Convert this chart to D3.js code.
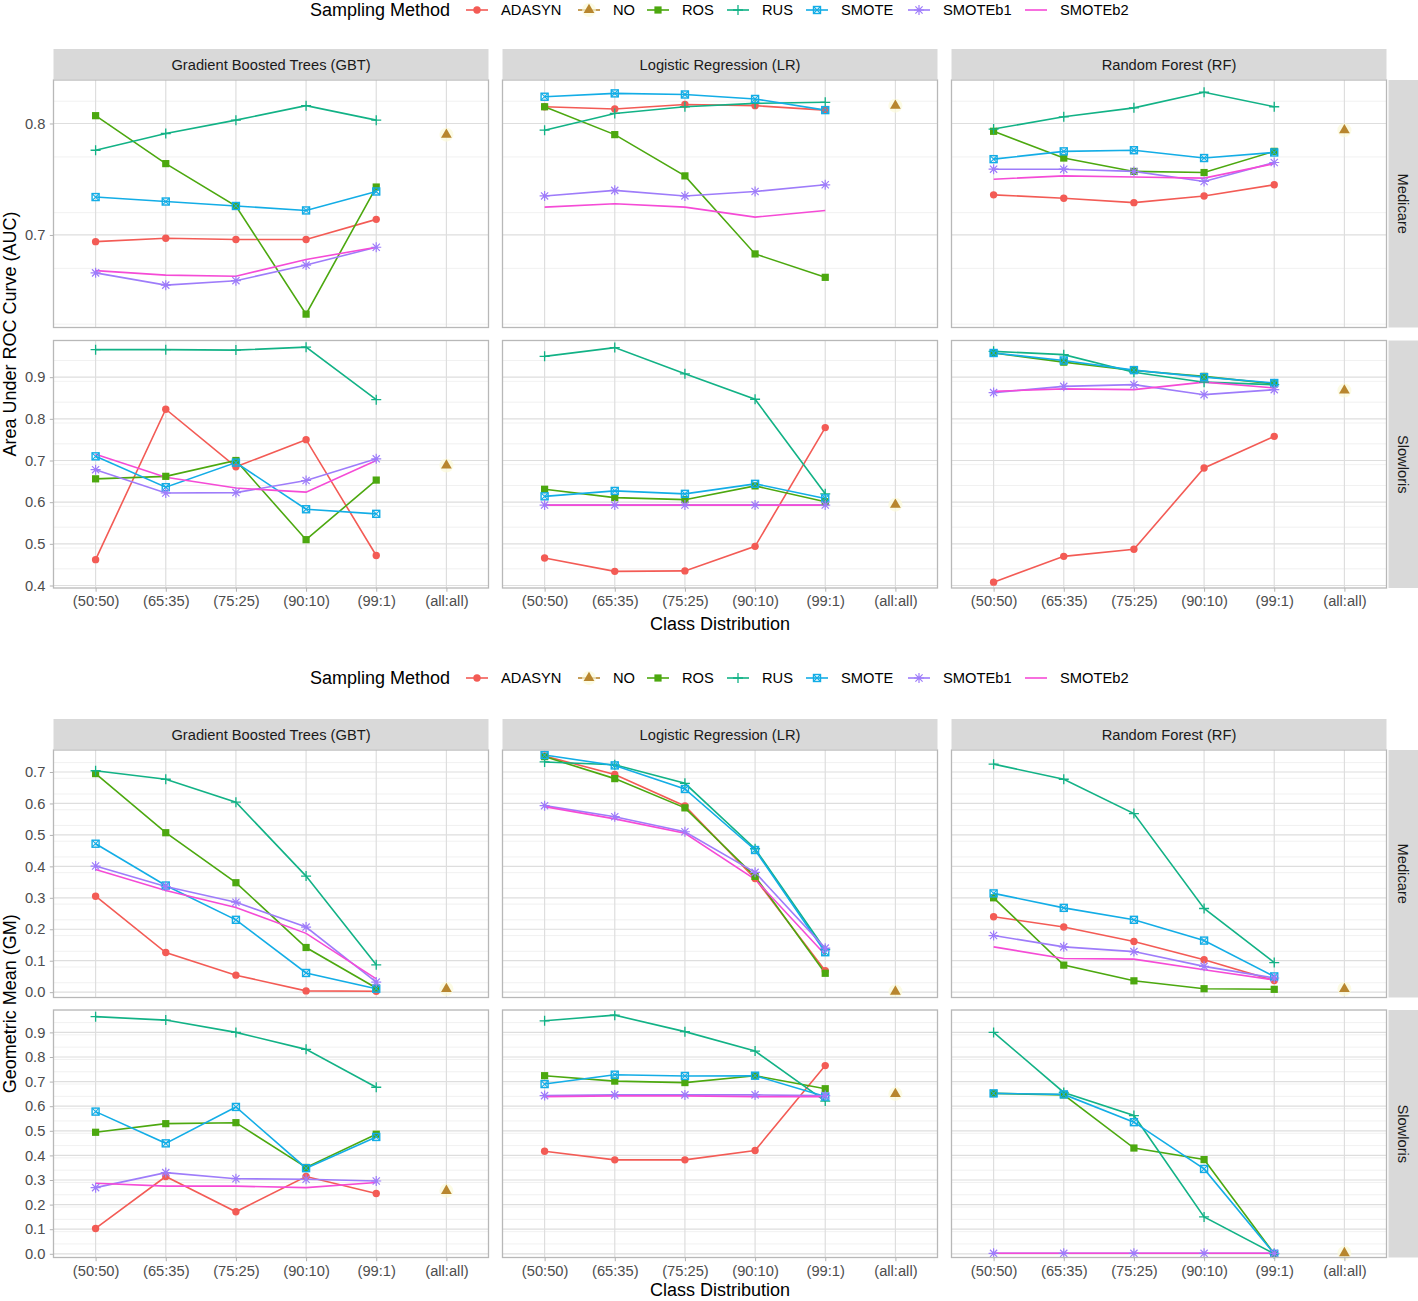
<!DOCTYPE html>
<html><head><meta charset="utf-8">
<script src="https://cdn.jsdelivr.net/npm/d3@7"></script>
<style>body{margin:0;background:#fff;} text{font-family:"Liberation Sans",Arial,Helvetica,sans-serif;}</style>
</head><body>
<script>
const categories = ["(50:50)", "(65:35)", "(75:25)", "(90:10)", "(99:1)", "(all:all)"];
const methods = ["ADASYN", "NO", "ROS", "RUS", "SMOTE", "SMOTEb1", "SMOTEb2"];
const models = ["Gradient Boosted Trees (GBT)", "Logistic Regression (LR)", "Random Forest (RF)"];
const datasets = ["Medicare", "Slowloris"];
const colors = ["#F35B55", "#B8862E", "#4CA80F", "#12B286", "#13ADE6", "#9E7CFA", "#F54BD6"];

// ---- AUC, Medicare ----
const aucMedGBT = {
  ADASYN: [0.694, 0.697, 0.696, 0.696, 0.714],
  ROS: [0.807, 0.764, 0.726, 0.629, 0.743],
  RUS: [0.776, 0.791, 0.803, 0.816, 0.803],
  SMOTE: [0.734, 0.730, 0.726, 0.722, 0.739],
  SMOTEb1: [0.666, 0.655, 0.659, 0.673, 0.689],
  SMOTEb2: [0.668, 0.664, 0.663, 0.678, 0.689]
};
const aucMedLR = {
  ADASYN: [0.815, 0.813, 0.817, 0.816, 0.812],
  ROS: [0.815, 0.790, 0.753, 0.683, 0.662],
  RUS: [0.794, 0.809, 0.815, 0.818, 0.819],
  SMOTE: [0.824, 0.827, 0.826, 0.822, 0.812],
  SMOTEb1: [0.735, 0.740, 0.735, 0.739, 0.745],
  SMOTEb2: [0.725, 0.728, 0.725, 0.716, 0.722]
};
const aucMedRF = {
  ADASYN: [0.736, 0.733, 0.729, 0.735, 0.745],
  ROS: [0.793, 0.769, 0.757, 0.756, 0.775],
  RUS: [0.795, 0.806, 0.814, 0.828, 0.815],
  SMOTE: [0.768, 0.775, 0.776, 0.769, 0.774],
  SMOTEb1: [0.759, 0.759, 0.757, 0.748, 0.765],
  SMOTEb2: [0.750, 0.753, 0.752, 0.751, 0.764]
};
const aucMedNO = [0.790, 0.816, 0.794];

// ---- AUC, Slowloris ----
const aucSlowGBT = {
  ADASYN: [0.462, 0.823, 0.685, 0.750, 0.472],
  ROS: [0.656, 0.662, 0.700, 0.510, 0.653],
  RUS: [0.966, 0.966, 0.965, 0.972, 0.846],
  SMOTE: [0.710, 0.636, 0.695, 0.583, 0.572],
  SMOTEb1: [0.678, 0.622, 0.623, 0.652, 0.704],
  SMOTEb2: [0.715, 0.660, 0.634, 0.624, 0.700]
};
const aucSlowLR = {
  ADASYN: [0.466, 0.434, 0.435, 0.494, 0.779],
  ROS: [0.631, 0.611, 0.606, 0.639, 0.601],
  RUS: [0.950, 0.971, 0.908, 0.847, 0.620],
  SMOTE: [0.614, 0.627, 0.620, 0.644, 0.609],
  SMOTEb1: [0.593, 0.593, 0.593, 0.593, 0.593],
  SMOTEb2: [0.593, 0.593, 0.593, 0.593, 0.593]
};
const aucSlowRF = {
  ADASYN: [0.408, 0.470, 0.487, 0.682, 0.758],
  ROS: [0.958, 0.936, 0.916, 0.902, 0.884],
  RUS: [0.962, 0.954, 0.912, 0.888, 0.882],
  SMOTE: [0.958, 0.940, 0.917, 0.900, 0.886],
  SMOTEb1: [0.863, 0.878, 0.882, 0.858, 0.870],
  SMOTEb2: [0.866, 0.872, 0.870, 0.888, 0.874]
};
const aucSlowNO = [0.688, 0.594, 0.868];

// ---- GM, Medicare ----
const gmMedGBT = {
  ADASYN: [0.305, 0.126, 0.054, 0.004, 0.003],
  ROS: [0.695, 0.507, 0.348, 0.142, 0.013],
  RUS: [0.704, 0.677, 0.604, 0.369, 0.087],
  SMOTE: [0.472, 0.339, 0.230, 0.061, 0.011],
  SMOTEb1: [0.401, 0.336, 0.286, 0.207, 0.032],
  SMOTEb2: [0.390, 0.323, 0.269, 0.187, 0.042]
};
const gmMedLR = {
  ADASYN: [0.751, 0.692, 0.592, 0.361, 0.068],
  ROS: [0.749, 0.679, 0.586, 0.368, 0.060],
  RUS: [0.732, 0.723, 0.664, 0.456, 0.135],
  SMOTE: [0.754, 0.721, 0.646, 0.452, 0.127],
  SMOTEb1: [0.593, 0.558, 0.510, 0.381, 0.140],
  SMOTEb2: [0.590, 0.551, 0.505, 0.359, 0.119]
};
const gmMedRF = {
  ADASYN: [0.240, 0.207, 0.161, 0.103, 0.037],
  ROS: [0.300, 0.086, 0.036, 0.011, 0.009],
  RUS: [0.725, 0.677, 0.568, 0.266, 0.094],
  SMOTE: [0.314, 0.268, 0.230, 0.164, 0.050],
  SMOTEb1: [0.180, 0.144, 0.129, 0.082, 0.045],
  SMOTEb2: [0.144, 0.107, 0.105, 0.071, 0.039]
};
const gmMedNO = [0.010, 0.002, 0.010];

// ---- GM, Slowloris ----
const gmSlowGBT = {
  ADASYN: [0.103, 0.314, 0.171, 0.314, 0.245],
  ROS: [0.494, 0.529, 0.533, 0.351, 0.486],
  RUS: [0.964, 0.950, 0.900, 0.831, 0.677],
  SMOTE: [0.578, 0.449, 0.597, 0.348, 0.475],
  SMOTEb1: [0.269, 0.330, 0.305, 0.303, 0.296],
  SMOTEb2: [0.287, 0.275, 0.275, 0.269, 0.290]
};
const gmSlowLR = {
  ADASYN: [0.417, 0.382, 0.382, 0.420, 0.765],
  ROS: [0.724, 0.702, 0.696, 0.724, 0.671],
  RUS: [0.947, 0.970, 0.903, 0.824, 0.621],
  SMOTE: [0.690, 0.728, 0.723, 0.724, 0.639],
  SMOTEb1: [0.643, 0.646, 0.646, 0.646, 0.643],
  SMOTEb2: [0.639, 0.642, 0.642, 0.639, 0.639]
};
const gmSlowRF = {
  ROS: [0.652, 0.646, 0.430, 0.383, 0.000],
  RUS: [0.900, 0.656, 0.562, 0.150, 0.000],
  SMOTE: [0.652, 0.648, 0.535, 0.345, 0.000],
  SMOTEb1: [0.002, 0.002, 0.002, 0.002, 0.002],
  SMOTEb2: [0.002, 0.002, 0.002, 0.002, 0.002]
};
const gmSlowNO = [0.256, 0.650, 0.003];

// tick values
const aucMedTicks = [0.7, 0.8];
const aucSlowTicks = [0.4, 0.5, 0.6, 0.7, 0.8, 0.9];
const gmMedTicks = [0.0, 0.1, 0.2, 0.3, 0.4, 0.5, 0.6, 0.7];
const gmSlowTicks = [0.0, 0.1, 0.2, 0.3, 0.4, 0.5, 0.6, 0.7, 0.8, 0.9];

// ---------------- drawing ----------------
const W = 1418, H = 1301;
const svg = d3.select("body").append("svg").attr("width", W).attr("height", H);
const color = d3.scaleOrdinal().domain(methods).range(colors);
const panelX = [53.5, 502.5, 951.5];
const panelW = 435;
const x = d3.scalePoint().domain(categories).range([0, panelW]).padding(0.6);

function drawMarker(g, method, cx, cy) {
  const c = color(method);
  const m = g.append("g").attr("transform", `translate(${cx},${cy})`);
  if (method === "ADASYN") {
    m.append("circle").attr("r", 3.7).attr("fill", c);
  } else if (method === "NO") {
    m.append("circle").attr("r", 7).attr("fill", "#FBFAD8").attr("opacity", 0.7);
    m.append("path").attr("d", d3.symbol(d3.symbolTriangle, 50)()).attr("fill", c);
  } else if (method === "ROS") {
    m.append("rect").attr("x", -3.6).attr("y", -3.6).attr("width", 7.2).attr("height", 7.2).attr("fill", c);
  } else if (method === "RUS") {
    m.append("path").attr("d", "M-5,0H5M0,-5V5").attr("stroke", c).attr("stroke-width", 1.3).attr("fill", "none");
  } else if (method === "SMOTE") {
    m.append("rect").attr("x", -3.5).attr("y", -3.5).attr("width", 7).attr("height", 7)
      .attr("stroke", c).attr("stroke-width", 1.4).attr("fill", "none");
    m.append("path").attr("d", "M-3.5,-3.5L3.5,3.5M-3.5,3.5L3.5,-3.5").attr("stroke", c).attr("stroke-width", 1.1);
  } else if (method === "SMOTEb1") {
    m.append("path").attr("d", "M-5,0H5M0,-5V5M-3.6,-3.6L3.6,3.6M-3.6,3.6L3.6,-3.6")
      .attr("stroke", c).attr("stroke-width", 1.2).attr("fill", "none");
  }
}

function drawFigure(cfg) {
  const g = svg.append("g");
  // legend
  const ly = cfg.legendY;
  g.append("text").attr("x", 310).attr("y", ly).attr("dominant-baseline", "central")
    .attr("font-size", 18).attr("fill", "#000").text("Sampling Method");
  const keyCenters = [477, 589, 658, 738, 817, 919, 1036];
  methods.forEach((mth, i) => {
    const kc = keyCenters[i];
    g.append("line").attr("x1", kc - 11).attr("x2", kc + 11).attr("y1", ly).attr("y2", ly)
      .attr("stroke", color(mth)).attr("stroke-width", 1.6);
    drawMarker(g, mth, kc, ly);
    g.append("text").attr("x", kc + 24).attr("y", ly).attr("dominant-baseline", "central")
      .attr("font-size", 14.7).attr("fill", "#000").text(mth);
  });

  // top strips
  models.forEach((mdl, ci) => {
    g.append("rect").attr("x", panelX[ci]).attr("y", cfg.stripY).attr("width", panelW).attr("height", 30)
      .attr("fill", "#D9D9D9");
    g.append("text").attr("x", panelX[ci] + panelW / 2).attr("y", cfg.stripY + 15.5)
      .attr("text-anchor", "middle").attr("dominant-baseline", "central")
      .attr("font-size", 14.7).attr("fill", "#1A1A1A").text(mdl);
  });

  cfg.rows.forEach((row, ri) => {
    const y = d3.scaleLinear().domain(row.domain).range([row.y1, row.y0]);
    const minor = d3.range(row.domain[0] - 0.1, row.domain[1] + 0.1, 0.05)
      .map(v => Math.round(v * 100) / 100)
      .filter(v => Math.abs(Math.round(v * 10) / 10 - v) > 0.01 && v > row.domain[0] && v < row.domain[1]);
    const hMaj = row.ticks.filter(v => v >= row.domain[0] && v <= row.domain[1]);

    // y axis (left)
    const ya = g.append("g").attr("transform", `translate(${panelX[0]},0)`)
      .call(d3.axisLeft(y).tickValues(row.ticks).tickFormat(d3.format(".1f")).tickSize(3.7).tickPadding(4.5));
    ya.select(".domain").remove();
    ya.selectAll(".tick line").attr("stroke", "#B3B3B3").attr("stroke-width", 1);
    ya.selectAll(".tick text").attr("font-size", 14.7).attr("fill", "#4D4D4D")
      .attr("font-family", '"Liberation Sans", Arial, sans-serif');

    models.forEach((mdl, ci) => {
      const pg = g.append("g").attr("transform", `translate(${panelX[ci]},0)`);
      pg.append("rect").attr("x", 0).attr("y", row.y0).attr("width", panelW).attr("height", row.y1 - row.y0)
        .attr("fill", "#fff");
      pg.selectAll(".minor").data(minor).enter().append("line")
        .attr("x1", 0).attr("x2", panelW).attr("y1", d => y(d)).attr("y2", d => y(d))
        .attr("stroke", "#EEEEEE").attr("stroke-width", 0.8);
      pg.selectAll(".major").data(hMaj).enter().append("line")
        .attr("x1", 0).attr("x2", panelW).attr("y1", d => y(d)).attr("y2", d => y(d))
        .attr("stroke", "#DEDEDE").attr("stroke-width", 1.2);
      pg.selectAll(".vmajor").data(categories).enter().append("line")
        .attr("x1", d => x(d)).attr("x2", d => x(d)).attr("y1", row.y0).attr("y2", row.y1)
        .attr("stroke", "#DEDEDE").attr("stroke-width", 1.2);

      const pdata = row.panels[ci];
      const line = d3.line().x((d, i) => x(categories[i])).y(d => y(d));
      methods.forEach(mth => {
        if (!pdata[mth]) return;
        pg.append("path").attr("d", line(pdata[mth])).attr("fill", "none")
          .attr("stroke", color(mth)).attr("stroke-width", 1.6);
      });
      methods.forEach(mth => {
        if (mth === "NO") {
          drawMarker(pg, "NO", x(categories[5]), y(row.no[ci]));
          return;
        }
        if (!pdata[mth]) return;
        pdata[mth].forEach((v, i) => drawMarker(pg, mth, x(categories[i]), y(v)));
      });
      pg.append("rect").attr("x", 0).attr("y", row.y0).attr("width", panelW).attr("height", row.y1 - row.y0)
        .attr("fill", "none").attr("stroke", "#B8B8B8").attr("stroke-width", 1.3);

      if (ri === cfg.rows.length - 1) {
        const xa = pg.append("g").attr("transform", `translate(0,${row.y1})`)
          .call(d3.axisBottom(x).tickSize(3.7).tickPadding(4));
        xa.select(".domain").remove();
        xa.selectAll(".tick line").attr("stroke", "#B3B3B3").attr("stroke-width", 1);
        xa.selectAll(".tick text").attr("font-size", 14.7).attr("fill", "#4D4D4D")
          .attr("font-family", '"Liberation Sans", Arial, sans-serif');
      }
    });

    // right strip
    g.append("rect").attr("x", 1388.5).attr("y", row.y0).attr("width", 29.5).attr("height", row.y1 - row.y0)
      .attr("fill", "#D9D9D9");
    g.append("text").attr("transform", `translate(${1403},${(row.y0 + row.y1) / 2}) rotate(90)`)
      .attr("text-anchor", "middle").attr("dominant-baseline", "central")
      .attr("font-size", 14.7).attr("fill", "#1A1A1A").text(datasets[ri]);
  });

  // axis titles
  g.append("text").attr("x", (panelX[0] + panelX[2] + panelW) / 2).attr("y", cfg.xTitleY)
    .attr("text-anchor", "middle").attr("dominant-baseline", "central")
    .attr("font-size", 18).attr("fill", "#000").text("Class Distribution");
  const yc = (cfg.rows[0].y0 + cfg.rows[1].y1) / 2;
  g.append("text").attr("transform", `translate(10,${yc}) rotate(-90)`)
    .attr("text-anchor", "middle").attr("dominant-baseline", "central")
    .attr("font-size", 18).attr("fill", "#000").text(cfg.yTitle);
}

drawFigure({
  legendY: 10, stripY: 49, xTitleY: 624,
  yTitle: "Area Under ROC Curve (AUC)",
  rows: [
    { y0: 80, y1: 327.5, domain: [0.617, 0.839], ticks: aucMedTicks,
      panels: [aucMedGBT, aucMedLR, aucMedRF], no: aucMedNO },
    { y0: 340.5, y1: 588, domain: [0.394, 0.988], ticks: aucSlowTicks,
      panels: [aucSlowGBT, aucSlowLR, aucSlowRF], no: aucSlowNO }
  ]
});
drawFigure({
  legendY: 678, stripY: 719, xTitleY: 1290,
  yTitle: "Geometric Mean (GM)",
  rows: [
    { y0: 750, y1: 997.5, domain: [-0.017, 0.770], ticks: gmMedTicks,
      panels: [gmMedGBT, gmMedLR, gmMedRF], no: gmMedNO },
    { y0: 1010, y1: 1257.5, domain: [-0.015, 0.991], ticks: gmSlowTicks,
      panels: [gmSlowGBT, gmSlowLR, gmSlowRF], no: gmSlowNO }
  ]
});
</script></body></html>
